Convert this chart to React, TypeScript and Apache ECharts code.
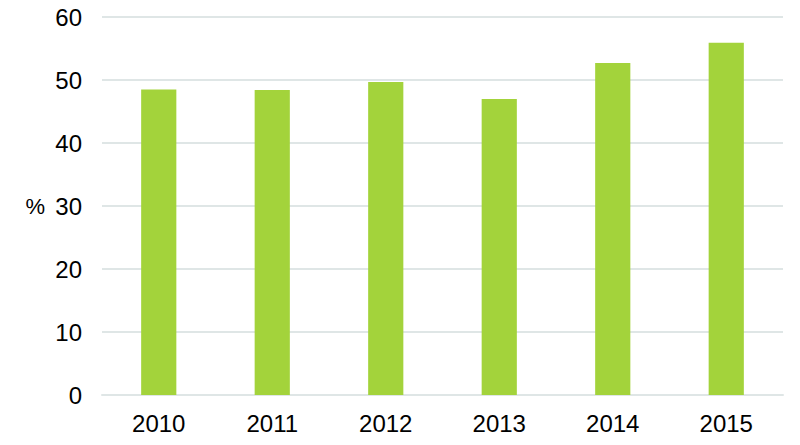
import React, { useEffect, useRef } from "react";
import * as echarts from "echarts";

const categories = ["2010", "2011", "2012", "2013", "2014", "2015"];
const values = [48.5, 48.4, 49.7, 47.0, 52.7, 55.9];
const yTicks = { min: 0, max: 60, interval: 10 };
const yName = "%";

const FONT = "Liberation Sans, Arial, sans-serif";

export default function App() {
  const ref = useRef<HTMLDivElement>(null);
  useEffect(() => {
    if (!ref.current) return;
    const chart = echarts.init(ref.current, undefined, { renderer: "svg" });
    chart.setOption({
      animation: false,
      grid: { left: 102, right: 17, top: 17, bottom: 50, containLabel: false },
      xAxis: {
        type: "category",
        data: categories,
        axisTick: { show: false },
        axisLine: { lineStyle: { color: "#dfe6e6", width: 2 } },
        axisLabel: {
          color: "#000",
          fontSize: 24,
          fontFamily: FONT,
          margin: 16,
        },
      },
      yAxis: {
        type: "value",
        min: yTicks.min,
        max: yTicks.max,
        interval: yTicks.interval,
        name: yName,
        nameLocation: "middle",
        nameRotate: 0,
        nameGap: 57,
        nameTextStyle: {
          color: "#000",
          fontSize: 22,
          fontFamily: FONT,
        },
        axisLine: { show: false },
        axisTick: { show: false },
        splitLine: { lineStyle: { color: "#dfe6e6", width: 2 } },
        axisLabel: {
          color: "#000",
          fontSize: 24,
          fontFamily: FONT,
          margin: 20,
        },
      },
      series: [
        {
          type: "bar",
          data: values,
          barWidth: "31%",
          itemStyle: { color: "#a3d33b" },
        },
      ],
    });
    return () => chart.dispose();
  }, []);
  return <div ref={ref} style={{ width: 800, height: 445, position: "absolute", left: 0, top: 0 }} />;
}
